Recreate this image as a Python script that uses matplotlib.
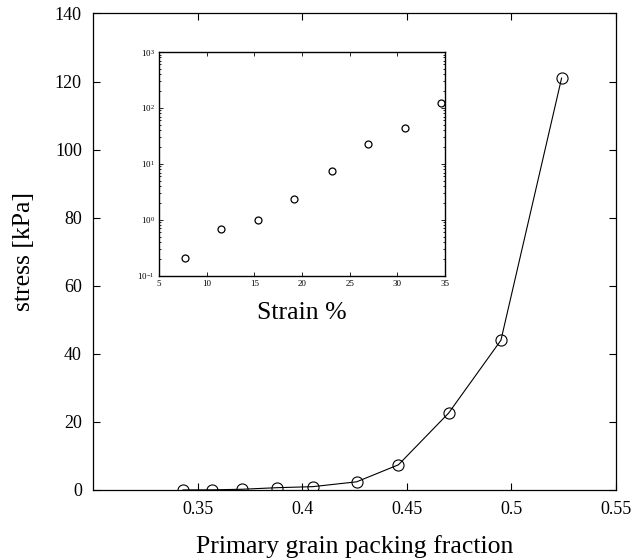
import matplotlib
matplotlib.use("Agg")
import matplotlib.pyplot as plt
from matplotlib.ticker import LogLocator, NullFormatter

plt.rcParams['font.family'] = ['Liberation Serif', 'DejaVu Serif']
plt.rcParams['mathtext.fontset'] = 'stix'

# main curve: stress vs primary grain packing fraction
packing = [0.343, 0.357, 0.371, 0.388, 0.405, 0.426, 0.446, 0.470, 0.495, 0.524]
stress = [0.02, 0.05, 0.21, 0.68, 0.98, 2.4, 7.4, 22.6, 44.0, 121.0]

# inset: stress vs strain (log scale)
strain = [7.7, 11.5, 15.4, 19.2, 23.1, 26.9, 30.8, 34.6]
stress_inset = [0.21, 0.68, 0.98, 2.4, 7.4, 22.6, 44.0, 121.0]

xticks = [0.35, 0.4, 0.45, 0.5, 0.55]
xticklabels = ['0.35', '0.4', '0.45', '0.5', '0.55']
yticks = [0, 20, 40, 60, 80, 100, 120, 140]

fig = plt.figure(figsize=(6.43, 5.60), dpi=100)
ax = fig.add_axes([0.1446, 0.125, 0.8134, 0.851])
ax.plot(packing, stress, color='black', lw=0.8, marker='o', ms=8,
        mfc='none', mec='black', mew=0.8)
ax.set_xlim(0.3, 0.55)
ax.set_ylim(0, 140)
ax.set_xticks(xticks)
ax.set_xticklabels(xticklabels)
ax.set_yticks(yticks)
ax.tick_params(direction='in', top=True, right=True, labelsize=13,
               length=5, width=0.8, pad=8)
ax.set_xlabel('Primary grain packing fraction', fontsize=18.5, labelpad=12)
ax.set_ylabel('stress [kPa]', fontsize=18.5, labelpad=14)
for s in ax.spines.values():
    s.set_linewidth(0.9)

# inset
ins = fig.add_axes([0.2473, 0.5077, 0.4448, 0.3994])
ins.plot(strain, stress_inset, ls='none', marker='o', ms=5,
         mfc='none', mec='black', mew=0.9)
ins.set_yscale('log')
ins.set_xlim(5, 35)
ins.set_ylim(0.1, 1000)
ins.set_xticks([5, 10, 15, 20, 25, 30, 35])
ins.yaxis.set_major_locator(LogLocator(base=10, numticks=10))
ins.yaxis.set_minor_locator(LogLocator(base=10, subs=range(2, 10), numticks=20))
ins.yaxis.set_minor_formatter(NullFormatter())
ins.tick_params(which='both', direction='in', top=True, right=True,
                labelsize=6.5, width=0.6, pad=3)
ins.tick_params(which='major', length=3)
ins.tick_params(which='minor', length=1.5)
ins.set_xlabel('Strain %', fontsize=18.5, labelpad=10)
for s in ins.spines.values():
    s.set_linewidth(1.0)

fig.savefig('out.png', dpi=100)
